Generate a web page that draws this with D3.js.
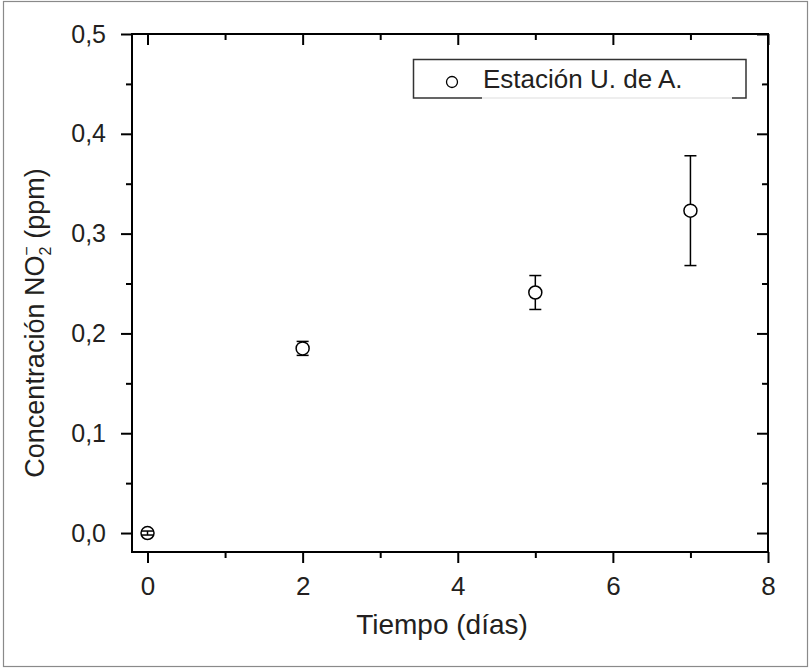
<!DOCTYPE html>
<html>
<head>
<meta charset="utf-8">
<script src="https://cdn.jsdelivr.net/npm/d3@7"></script>
<style>
  body { margin: 0; background: #fff; }
  svg text { font-family: "Liberation Sans", Arial, sans-serif; fill: #231f20; }
</style>
</head>
<body>
<script>
// data
let days = [0, 2, 5, 7];
let conc = [0.0, 0.185, 0.241, 0.323];
let concErr = [0.002, 0.007, 0.017, 0.055];
let xMajor = [0, 2, 4, 6, 8];
let xMinor = [1, 3, 5, 7];
let yMajor = [0.0, 0.1, 0.2, 0.3, 0.4, 0.5];
let yMinor = [0.05, 0.15, 0.25, 0.35, 0.45];
let seriesName = "Estación U. de A.";

let svgWidth = 811;
let svgHeight = 669;

let margin = { top: 34, right: 43, bottom: 117, left: 132 };
let width = svgWidth - margin.left - margin.right;
let height = svgHeight - margin.top - margin.bottom;

let svg = d3.select("body").append("svg")
  .attr("width", svgWidth)
  .attr("height", svgHeight);

// outer frame of the figure
svg.append("rect")
  .attr("x", 3.5).attr("y", 1.5)
  .attr("width", 804).attr("height", 665)
  .attr("fill", "none")
  .attr("stroke", "#8a8a8a")
  .attr("stroke-width", 1.2);

let chartGroup = svg.append("g")
  .attr("transform", `translate(${margin.left}, ${margin.top})`);

let x = d3.scaleLinear().domain([-0.2, 8]).range([0, width]);
let y = d3.scaleLinear().domain([-0.019, 0.5]).range([height, 0]);

let fmt = d => d3.format(".1f")(d).replace(".", ",");

function styleAxis(g) {
  g.select(".domain").remove();
  g.selectAll(".tick line").attr("stroke", "#000").attr("stroke-width", 2);
}

// bottom axis (ticks outward)
chartGroup.append("g")
  .attr("transform", `translate(0, ${height})`)
  .call(d3.axisBottom(x).tickValues(xMajor).tickSize(11).tickPadding(14).tickFormat(d3.format("d")))
  .call(styleAxis)
  .call(g => g.selectAll("text").attr("font-size", 26));
chartGroup.append("g")
  .attr("transform", `translate(0, ${height})`)
  .call(d3.axisBottom(x).tickValues(xMinor).tickSize(6).tickFormat(""))
  .call(styleAxis);

// top axis (ticks inward)
chartGroup.append("g")
  .call(d3.axisBottom(x).tickValues(xMajor).tickSize(11).tickFormat(""))
  .call(styleAxis);
chartGroup.append("g")
  .call(d3.axisBottom(x).tickValues(xMinor).tickSize(6).tickFormat(""))
  .call(styleAxis);

// left axis (ticks outward)
chartGroup.append("g")
  .call(d3.axisLeft(y).tickValues(yMajor).tickSize(11).tickPadding(15).tickFormat(fmt))
  .call(styleAxis)
  .call(g => g.selectAll("text").attr("font-size", 25));
chartGroup.append("g")
  .call(d3.axisLeft(y).tickValues(yMinor).tickSize(6).tickFormat(""))
  .call(styleAxis);

// right axis (ticks inward)
chartGroup.append("g")
  .attr("transform", `translate(${width}, 0)`)
  .call(d3.axisLeft(y).tickValues(yMajor).tickSize(11).tickFormat(""))
  .call(styleAxis);
chartGroup.append("g")
  .attr("transform", `translate(${width}, 0)`)
  .call(d3.axisLeft(y).tickValues(yMinor).tickSize(6).tickFormat(""))
  .call(styleAxis);

// plot frame
chartGroup.append("rect")
  .attr("width", width).attr("height", height)
  .attr("fill", "none")
  .attr("stroke", "#000")
  .attr("stroke-width", 2);

// error bars
let pts = days.map((d, i) => ({ x: d, y: conc[i], e: concErr[i] }));
let capHalf = 6;
let errGroup = chartGroup.append("g")
  .attr("stroke", "#000")
  .attr("stroke-width", 1.5);
pts.forEach(p => {
  let cx = x(p.x);
  errGroup.append("line")
    .attr("x1", cx).attr("x2", cx)
    .attr("y1", y(p.y - p.e)).attr("y2", y(p.y + p.e));
  [p.y - p.e, p.y + p.e].forEach(v => {
    errGroup.append("line")
      .attr("x1", cx - capHalf).attr("x2", cx + capHalf)
      .attr("y1", y(v)).attr("y2", y(v));
  });
});

// markers
chartGroup.selectAll("circle.pt")
  .data(pts)
  .enter()
  .append("circle")
  .attr("class", "pt")
  .attr("cx", d => x(d.x))
  .attr("cy", d => y(d.y))
  .attr("r", 6.5)
  .attr("fill", d => d.x === 0 ? "none" : "#fff")
  .attr("stroke", "#000")
  .attr("stroke-width", 1.5);

// legend
let lg = svg.append("g");
lg.append("path")
  .attr("d", "M482,98 L413.5,98 L413.5,59.5 L746,59.5 L746,98 L732,98")
  .attr("fill", "none")
  .attr("stroke", "#333")
  .attr("stroke-width", 1.5);
lg.append("line")
  .attr("x1", 482).attr("x2", 732).attr("y1", 98).attr("y2", 98)
  .attr("stroke", "#ddd").attr("stroke-width", 1);
lg.append("circle")
  .attr("cx", 452).attr("cy", 82).attr("r", 5.5)
  .attr("fill", "#fff").attr("stroke", "#000").attr("stroke-width", 1.3);
lg.append("text")
  .attr("x", 483).attr("y", 88)
  .attr("font-size", 26)
  .attr("fill", "#333")
  .text(seriesName);

// axis titles
svg.append("text")
  .attr("x", 442).attr("y", 634)
  .attr("text-anchor", "middle")
  .attr("font-size", 28)
  .text("Tiempo (días)");

let yTitle = svg.append("text")
  .attr("transform", `translate(44, 323) rotate(-90)`)
  .attr("text-anchor", "middle")
  .attr("font-size", 27);
yTitle.append("tspan").text("Concentración NO");
yTitle.append("tspan").attr("font-size", 16).attr("dy", 7).text("2");
yTitle.append("tspan").attr("font-size", 16).attr("dx", -9).attr("dy", -19).text("−");
yTitle.append("tspan").attr("dy", 12).text(" (ppm)");
</script>
</body>
</html>
